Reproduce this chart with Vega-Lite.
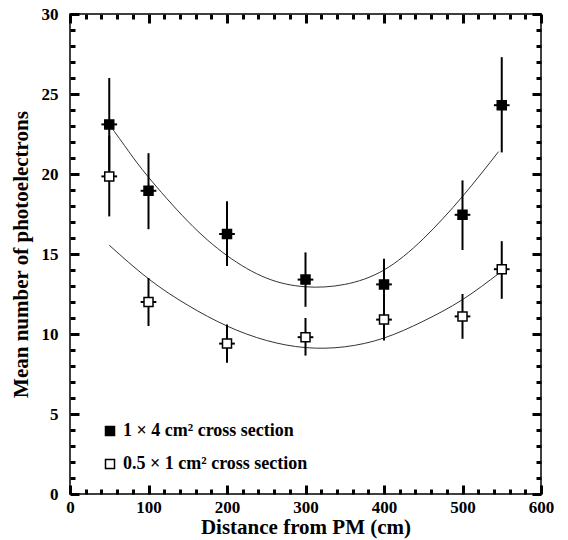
{
  "$schema": "https://vega.github.io/schema/vega-lite/v6.json",
  "width": 471,
  "height": 480,
  "autosize": {"type": "none"},
  "padding": {"left": 70, "top": 14, "right": 27, "bottom": 46},
  "background": "white",
  "config": {
    "view": {"stroke": "black", "strokeWidth": 1.5},
    "font": "Liberation Serif",
    "axis": {"ticks": true, "zindex": 2, "grid": false, "domain": false}
  },
  "datasets": {
    "pts": [
      {"dist": 50, "mean": 23.1, "lo": 20.2, "hi": 26.0, "xlo": 40, "xhi": 60, "series": "1 × 4 cm² cross section"},
      {"dist": 100, "mean": 18.95, "lo": 16.55, "hi": 21.3, "xlo": 90, "xhi": 110, "series": "1 × 4 cm² cross section"},
      {"dist": 200, "mean": 16.25, "lo": 14.25, "hi": 18.3, "xlo": 190, "xhi": 210, "series": "1 × 4 cm² cross section"},
      {"dist": 300, "mean": 13.4, "lo": 11.7, "hi": 15.1, "xlo": 290, "xhi": 310, "series": "1 × 4 cm² cross section"},
      {"dist": 400, "mean": 13.1, "lo": 11.5, "hi": 14.7, "xlo": 390, "xhi": 410, "series": "1 × 4 cm² cross section"},
      {"dist": 500, "mean": 17.45, "lo": 15.25, "hi": 19.6, "xlo": 490, "xhi": 510, "series": "1 × 4 cm² cross section"},
      {"dist": 550, "mean": 24.3, "lo": 21.35, "hi": 27.3, "xlo": 540, "xhi": 560, "series": "1 × 4 cm² cross section"},
      {"dist": 50, "mean": 19.85, "lo": 17.35, "hi": 22.4, "xlo": 40, "xhi": 60, "series": "0.5 × 1 cm² cross section"},
      {"dist": 100, "mean": 12.0, "lo": 10.5, "hi": 13.5, "xlo": 90, "xhi": 110, "series": "0.5 × 1 cm² cross section"},
      {"dist": 200, "mean": 9.4, "lo": 8.2, "hi": 10.6, "xlo": 190, "xhi": 210, "series": "0.5 × 1 cm² cross section"},
      {"dist": 300, "mean": 9.8, "lo": 8.65, "hi": 11.0, "xlo": 290, "xhi": 310, "series": "0.5 × 1 cm² cross section"},
      {"dist": 400, "mean": 10.9, "lo": 9.6, "hi": 12.2, "xlo": 390, "xhi": 410, "series": "0.5 × 1 cm² cross section"},
      {"dist": 500, "mean": 11.1, "lo": 9.7, "hi": 12.5, "xlo": 490, "xhi": 510, "series": "0.5 × 1 cm² cross section"},
      {"dist": 550, "mean": 14.05, "lo": 12.2, "hi": 15.8, "xlo": 540, "xhi": 560, "series": "0.5 × 1 cm² cross section"}
    ],
    "curves": [
      {"dist": 50, "value": 23.1, "fit": "a"},
      {"dist": 75, "value": 21.4, "fit": "a"},
      {"dist": 100, "value": 19.8, "fit": "a"},
      {"dist": 150, "value": 17.05, "fit": "a"},
      {"dist": 200, "value": 14.9, "fit": "a"},
      {"dist": 250, "value": 13.5, "fit": "a"},
      {"dist": 300, "value": 12.95, "fit": "a"},
      {"dist": 350, "value": 13.1, "fit": "a"},
      {"dist": 400, "value": 14.0, "fit": "a"},
      {"dist": 450, "value": 15.95, "fit": "a"},
      {"dist": 500, "value": 18.6, "fit": "a"},
      {"dist": 546, "value": 21.4, "fit": "a"},
      {"dist": 50, "value": 15.55, "fit": "b"},
      {"dist": 100, "value": 13.45, "fit": "b"},
      {"dist": 150, "value": 11.8, "fit": "b"},
      {"dist": 200, "value": 10.5, "fit": "b"},
      {"dist": 250, "value": 9.6, "fit": "b"},
      {"dist": 300, "value": 9.15, "fit": "b"},
      {"dist": 350, "value": 9.2, "fit": "b"},
      {"dist": 400, "value": 9.75, "fit": "b"},
      {"dist": 450, "value": 10.8, "fit": "b"},
      {"dist": 500, "value": 12.15, "fit": "b"},
      {"dist": 548, "value": 13.85, "fit": "b"}
    ]
  },
  "resolve": {"axis": {"x": "independent", "y": "independent"}},
  "layer": [
    {
      "layer": [
        {
          "data": {"name": "curves"},
          "mark": {"type": "line", "color": "#333333", "strokeWidth": 1, "interpolate": "natural"},
          "encoding": {
            "x": {"field": "dist", "type": "quantitative", "scale": {"domain": [0, 600], "nice": false}},
            "y": {"field": "value", "type": "quantitative", "scale": {"domain": [0, 30], "nice": false}},
            "detail": {"field": "fit"}
          }
        },
        {
          "data": {"name": "pts"},
          "mark": {"type": "rule", "color": "black", "strokeWidth": 2},
          "encoding": {
            "x": {"field": "dist", "type": "quantitative"},
            "y": {"field": "lo", "type": "quantitative"},
            "y2": {"field": "hi"}
          }
        },
        {
          "data": {"name": "pts"},
          "mark": {"type": "rule", "color": "black", "strokeWidth": 2},
          "encoding": {
            "x": {"field": "xlo", "type": "quantitative"},
            "x2": {"field": "xhi"},
            "y": {"field": "mean", "type": "quantitative"}
          }
        },
        {
          "data": {"name": "pts"},
          "mark": {"type": "point", "shape": "square", "size": 81, "filled": true, "opacity": 1, "stroke": "black", "strokeWidth": 1.5},
          "encoding": {
            "x": {"field": "dist", "type": "quantitative"},
            "y": {"field": "mean", "type": "quantitative"},
            "fill": {
              "field": "series", "type": "nominal",
              "scale": {"domain": ["1 × 4 cm² cross section", "0.5 × 1 cm² cross section"], "range": ["black", "white"]},
              "legend": {
                "orient": "none", "legendX": 31, "legendY": 408, "title": null, "padding": 0,
                "symbolType": "square", "symbolSize": 81, "symbolStrokeColor": "black", "symbolStrokeWidth": 1.5,
                "labelFont": "Liberation Serif", "labelFontWeight": "bold", "labelFontSize": 18, "labelColor": "black",
                "rowPadding": 15, "labelOffset": 4, "labelLimit": 400
              }
            }
          }
        }
      ],
      "encoding": {
        "x": {
          "axis": {
            "orient": "bottom",
            "values": [0, 100, 200, 300, 400, 500, 600],
            "offset": -9, "tickSize": 9, "tickColor": "black", "tickWidth": 3,
            "labelFlush": false, "labelOverlap": false,
            "labelFont": "Liberation Serif", "labelFontWeight": "bold", "labelFontSize": 17, "labelColor": "black",
            "labelPadding": 5,
            "title": "Distance from PM (cm)",
            "titleFont": "Liberation Serif", "titleFontWeight": "bold", "titleFontSize": 21, "titleColor": "black",
            "titlePadding": 1
          }
        },
        "y": {
          "axis": {
            "orient": "left",
            "values": [0, 5, 10, 15, 20, 25, 30],
            "offset": -9, "tickSize": 9, "tickColor": "black", "tickWidth": 3,
            "labelFlush": false, "labelOverlap": false,
            "labelFont": "Liberation Serif", "labelFontWeight": "bold", "labelFontSize": 17, "labelColor": "black",
            "labelPadding": 12,
            "title": "Mean number of photoelectrons",
            "titleFont": "Liberation Serif", "titleFontWeight": "bold", "titleFontSize": 21, "titleColor": "black",
            "titlePadding": 10
          }
        }
      }
    },
    {
      "data": {"name": "pts"},
      "mark": {"type": "point", "opacity": 0},
      "encoding": {
        "x": {
          "field": "dist", "type": "quantitative",
          "axis": {
            "orient": "bottom",
            "values": [20,40,60,80,120,140,160,180,220,240,260,280,320,340,360,380,420,440,460,480,520,540,560,580],
            "labels": false, "title": null,
            "offset": -5, "tickSize": 5, "tickColor": "black", "tickWidth": 3
          }
        },
        "y": {
          "field": "mean", "type": "quantitative",
          "axis": {
            "orient": "left",
            "values": [1,2,3,4,6,7,8,9,11,12,13,14,16,17,18,19,21,22,23,24,26,27,28,29],
            "labels": false, "title": null,
            "offset": -5, "tickSize": 5, "tickColor": "black", "tickWidth": 3
          }
        }
      }
    },
    {
      "data": {"name": "pts"},
      "mark": {"type": "point", "opacity": 0},
      "encoding": {
        "x": {
          "field": "dist", "type": "quantitative",
          "axis": {
            "orient": "top",
            "values": [0, 100, 200, 300, 400, 500, 600],
            "labels": false, "title": null,
            "offset": -9, "tickSize": 9, "tickColor": "black", "tickWidth": 3
          }
        },
        "y": {
          "field": "mean", "type": "quantitative",
          "axis": {
            "orient": "right",
            "values": [0, 5, 10, 15, 20, 25, 30],
            "labels": false, "title": null,
            "offset": -9, "tickSize": 9, "tickColor": "black", "tickWidth": 3
          }
        }
      }
    },
    {
      "data": {"name": "pts"},
      "mark": {"type": "point", "opacity": 0},
      "encoding": {
        "x": {
          "field": "dist", "type": "quantitative",
          "axis": {
            "orient": "top",
            "values": [20,40,60,80,120,140,160,180,220,240,260,280,320,340,360,380,420,440,460,480,520,540,560,580],
            "labels": false, "title": null,
            "offset": -5, "tickSize": 5, "tickColor": "black", "tickWidth": 3
          }
        },
        "y": {
          "field": "mean", "type": "quantitative",
          "axis": {
            "orient": "right",
            "values": [1,2,3,4,6,7,8,9,11,12,13,14,16,17,18,19,21,22,23,24,26,27,28,29],
            "labels": false, "title": null,
            "offset": -5, "tickSize": 5, "tickColor": "black", "tickWidth": 3
          }
        }
      }
    }
  ]
}
